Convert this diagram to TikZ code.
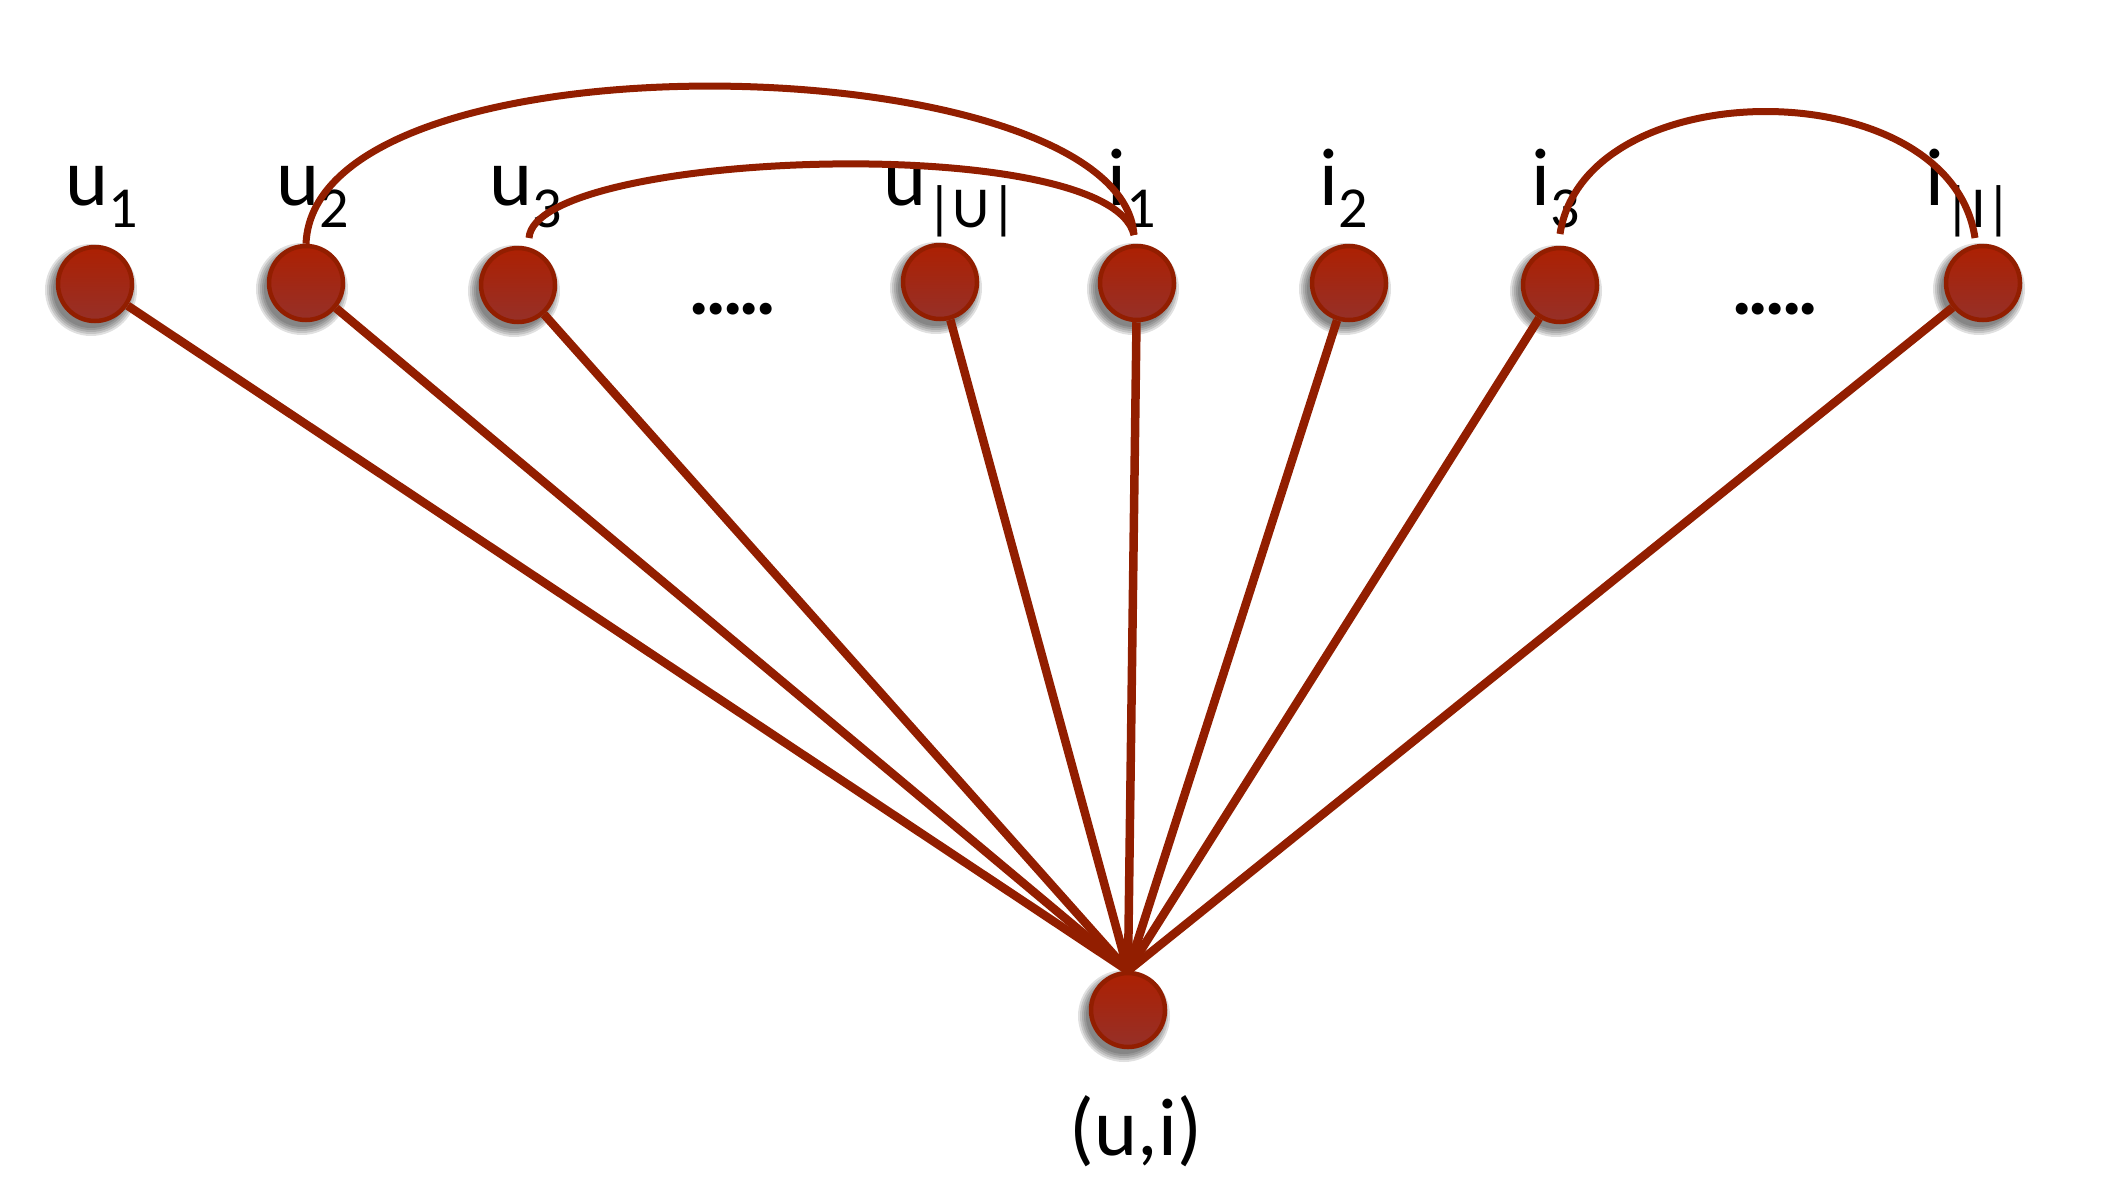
\documentclass[tikz,border=0pt]{standalone}
\usepackage{fontspec}
\setmainfont{Carlito}
\pgfdeclarelayer{shadow}
\pgfdeclarelayer{background}
\pgfsetlayers{shadow,background,main}
\definecolor{edgered}{RGB}{146,30,0}
\definecolor{balltop}{RGB}{172,32,2}
\definecolor{ballbot}{RGB}{150,48,40}
\newcommand\lbl[2]{#1\raisebox{-22pt}{\fontsize{58}{60}\selectfont #2}}
\newcommand\dotrow{.\kern-4.7pt.\kern-4.7pt.\kern-4.7pt.\kern-4.7pt.}
\tikzset{
  ball/.style={circle, minimum size=74pt, inner sep=0pt, draw=edgered, line width=4.5pt,
    top color=balltop, bottom color=ballbot},
  softshadow/.style={fill=black, opacity=0.12},
  lab/.style={anchor=base, inner sep=0pt, font=\fontsize{82}{90}\selectfont},
  dotsl/.style={anchor=base, inner sep=0pt, font=\bfseries\fontsize{80}{88}\selectfont},
  edge/.style={draw=edgered, line width=8.5pt},
  arcedge/.style={draw=edgered, line width=7pt}
}
\begin{document}
\begin{tikzpicture}[x=1pt,y=-1pt]
\useasboundingbox (0,0) rectangle (2106,1200);
% nodes
\node[ball] (u1) at (95,284) {};
\node[ball] (u2) at (306,283) {};
\node[ball] (u3) at (518,285) {};
\node[ball] (uU) at (940,282) {};
\node[ball] (i1) at (1137,283) {};
\node[ball] (i2) at (1349,283) {};
\node[ball] (i3) at (1560,285) {};
\node[ball] (iI) at (1983,283) {};
\node[ball] (b) at (1128,1010) {};
% soft shadows
\begin{pgfonlayer}{shadow}
\foreach \n in {u1,u2,u3,uU,i1,i2,i3,iI,b}
  \foreach \r in {46,44,42,40,38}
    \fill[softshadow] ([shift={(-4,6)}]\n.center) circle (\r);
\end{pgfonlayer}
% labels
\node[lab] (lu1) at (102,205) {\lbl{u}{1}};
\node[lab] (lu2) at (313,205) {\lbl{u}{2}};
\node[lab] (lu3) at (526,205) {\lbl{u}{3}};
\node[lab] (luU) at (950,205) {\lbl{u}{|U|}};
\node[lab] (li1) at (1132,205) {\lbl{i}{1}};
\node[lab] (li2) at (1344,205) {\lbl{i}{2}};
\node[lab] (li3) at (1556,205) {\lbl{i}{3}};
\node[lab] (liI) at (1969,205) {\lbl{i}{|I|}};
\node[lab] (lb) at (1136,1155) {(u,i)};
\node[dotsl] (d1) at (733,314) {\dotrow};
\node[dotsl] (d2) at (1775,314) {\dotrow};
% edges to (u,i)
\begin{pgfonlayer}{background}
\foreach \n in {u1,u2,u3,uU,i1,i2,i3,iI}
  \draw[edge] (\n) -- (b.north);
\end{pgfonlayer}
% arcs
\coordinate (a1end) at (1134,235);
\coordinate (a2start) at (529,238);
\coordinate (a3start) at (1560,234);
\coordinate (a3end) at (1975,238);
\draw[arcedge] (u2.north) .. controls (315,25) and (1120,45) .. (a1end);
\draw[arcedge] (a2start) .. controls (535,150) and (1110,130) .. (a1end);
\draw[arcedge] (a3start) .. controls (1585,70) and (1950,70) .. (a3end);
\end{tikzpicture}
\end{document}
